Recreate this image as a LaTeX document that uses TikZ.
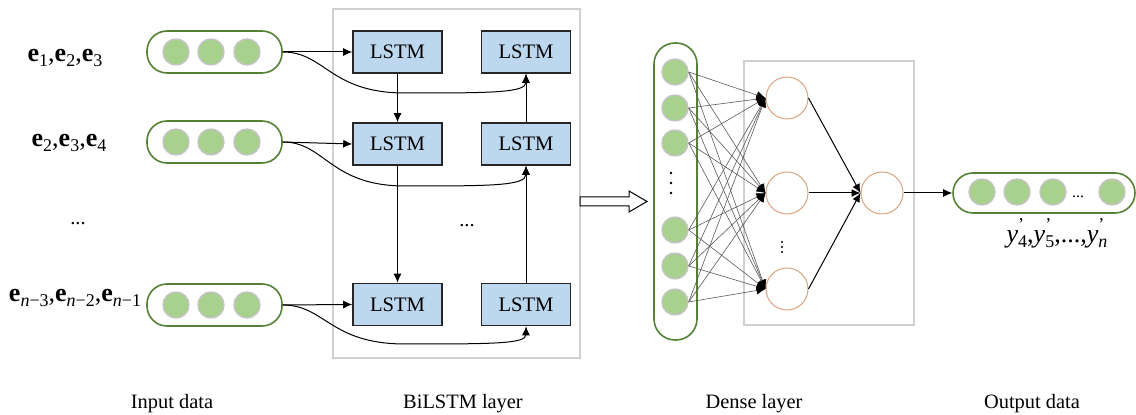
\documentclass[tikz,border=0pt]{standalone}
\usepackage{fontspec}
\setmainfont{Liberation Serif}
\usetikzlibrary{arrows.meta}
\definecolor{dotgreen}{HTML}{A9D18E}
\definecolor{dotgray}{HTML}{C4C4C4}
\definecolor{capgreen}{HTML}{548235}
\definecolor{lstmblue}{HTML}{BDD7EE}
\definecolor{lstmborder}{HTML}{262626}
\definecolor{panelgray}{HTML}{D0D0D0}
\definecolor{hidorange}{HTML}{D9A47F}
\newcommand{\sbx}[1]{\raisebox{-0.4ex}{\fontsize{9}{10}\selectfont #1}}
\newcommand{\prm}{\rlap{\raisebox{1.05ex}{\fontsize{9}{10}\selectfont\upshape '}}}
\begin{document}
\begin{tikzpicture}[x=0.5pt,y=-0.5pt,
  dot/.style={circle, fill=dotgreen, draw=dotgray, line width=0.7pt, minimum size=13pt, inner sep=0pt},
  capsule/.style={rectangle, rounded corners=10pt, draw=capgreen, line width=0.8pt, fill=white, minimum width=67.5pt, minimum height=21pt, inner sep=0pt},
  vcapsule/.style={rectangle, rounded corners=10.5pt, draw=capgreen, line width=0.8pt, fill=white, minimum width=21.5pt, minimum height=148.5pt, inner sep=0pt},
  lstm/.style={rectangle, draw=lstmborder, line width=0.8pt, fill=lstmblue, minimum width=44.5pt, minimum height=21pt, inner sep=0pt, font=\fontsize{10.3}{12}\selectfont},
  panel/.style={rectangle, draw=panelgray, line width=0.6pt, inner sep=0pt},
  hid/.style={circle, draw=hidorange, line width=0.5pt, minimum size=21pt, inner sep=0pt, fill=white},
  conn/.style={-{Latex[length=4.5pt,width=4pt]}, line width=0.5pt, black},
  dconn/.style={-{Latex[length=4.5pt,width=4pt,color=black]}, line width=0.3pt, draw=black!65},
  lbl/.style={font=\fontsize{10.2}{12}\selectfont, anchor=base, inner sep=0pt},
  elbl/.style={font=\fontsize{13}{15}\selectfont, anchor=base, inner sep=0pt},
  hollow/.style={draw=black, line width=0.5pt, fill=white},
  vdot/.style={circle, fill=black, inner sep=0pt, minimum size=1.3pt}
]
\useasboundingbox (0,0) rectangle (1136,415);

% panels
\node[panel, minimum width=123.5pt, minimum height=174.5pt] (bil) at (456.5,183.5) {};
\node[panel, minimum width=85pt, minimum height=132pt] (dpanel) at (829,193) {};

% input labels
\node[elbl] (t1) at (65,62) {\textbf{e}\sbx{1},\textbf{e}\sbx{2},\textbf{e}\sbx{3}};
\node[elbl] (t2) at (69,147) {\textbf{e}\sbx{2},\textbf{e}\sbx{3},\textbf{e}\sbx{4}};
\node[lbl] (tdots) at (78,225) {...};
\node[elbl] (t3) at (75,302) {\textbf{e}\sbx{\textit{n}−3},\textbf{e}\sbx{\textit{n}−2},\textbf{e}\sbx{\textit{n}−1}};

% input capsules
\foreach \i/\y in {1/52,2/142,3/305}{
  \node[capsule] (c\i) at (214.5,\y) {};
  \node[dot] (c\i a) at (176,\y) {};
  \node[dot] (c\i b) at (211,\y) {};
  \node[dot] (c\i c) at (247,\y) {};
}

% LSTM cells
\node[lstm] (l1) at (397.5,52) {LSTM};
\node[lstm] (l2) at (397.5,144) {LSTM};
\node[lstm] (l3) at (397.5,304.5) {LSTM};
\node[lstm] (r1) at (526,52) {LSTM};
\node[lstm] (r2) at (526,144) {LSTM};
\node[lstm] (r3) at (526,304.5) {LSTM};
\node[lbl] (mdots) at (467,227) {...};

% straight inputs
\draw[conn] (c1.east) -- (l1.west);
\draw[conn] (c2.east) -- (l2.west);
\draw[conn] (c3.east) -- (l3.west);

% curved inputs to backward cells
\coordinate (b1) at (405,93);
\coordinate (b2) at (405,186);
\coordinate (b3) at (405,344);
\draw[conn] (c1.east) .. controls (325,52) and (330,93) .. (b1) .. controls (490,93) and (526,93) .. (r1.south);
\draw[conn] (c2.east) .. controls (325,142) and (330,186) .. (b2) .. controls (490,186) and (526,186) .. (r2.south);
\draw[conn] (c3.east) .. controls (325,305) and (330,344) .. (b3) .. controls (490,344) and (526,344) .. (r3.south);

% recurrent links
\draw[conn] (l1.south) -- (l2.north);
\draw[conn] (l2.south) -- (l3.north);
\draw[conn] (r3.north) -- (r2.south);
\draw[conn] (r2.north) -- (r1.south);

% hollow arrow
\draw[hollow] (580,197) -- (629,197) -- (629,191) -- (647,201.5) -- (629,212) -- (629,206) -- (580,206) -- cycle;

% dense input column
\node[vcapsule] (dcap) at (675.5,191.5) {};
\foreach \i/\y in {1/72,2/108,3/143,4/230,5/266,6/302}{
  \node[dot] (i\i) at (675,\y) {};
}
\foreach \y in {173,183,193}{
  \node[vdot] at (671,\y) {};
}

% hidden neurons
\node[hid] (h1) at (787,98) {};
\node[hid] (h2) at (787,193) {};
\node[hid] (h3) at (787,289) {};
\foreach \y in {242,247,252}{
  \node[vdot, minimum size=1.1pt] at (782,\y) {};
}
\node[hid] (o) at (882,193) {};

\foreach \a in {1,...,6}{
  \foreach \b in {1,2,3}{
    \draw[dconn] (i\a.east) -- (h\b.west);
  }
}
\foreach \b in {1,2,3}{
  \draw[conn] (h\b.east) -- (o.west);
}

% output capsule
\node[capsule, minimum width=91pt, minimum height=20pt] (ocap) at (1044,193) {};
\node[dot] (o1) at (982,192) {};
\node[dot] (o2) at (1017,192) {};
\node[dot] (o3) at (1053,192) {};
\node[font=\fontsize{8}{10}\selectfont, anchor=base, inner sep=0pt] (odots) at (1078,198) {...};
\node[dot] (o4) at (1112,192) {};
\draw[conn] (o.east) -- (ocap.west);

\node[elbl] (ylbl) at (1057,243) {\textit{y}\prm\sbx{4},\textit{y}\prm\sbx{5},...,\textit{y}\prm\sbx{\textit{n}}};

% bottom captions
\node[lbl] (cap1) at (172,409) {Input data};
\node[lbl] (cap2) at (463,409) {BiLSTM layer};
\node[lbl] (cap3) at (754,409) {Dense layer};
\node[lbl] (cap4) at (1032,409) {Output data};
\end{tikzpicture}
\end{document}
